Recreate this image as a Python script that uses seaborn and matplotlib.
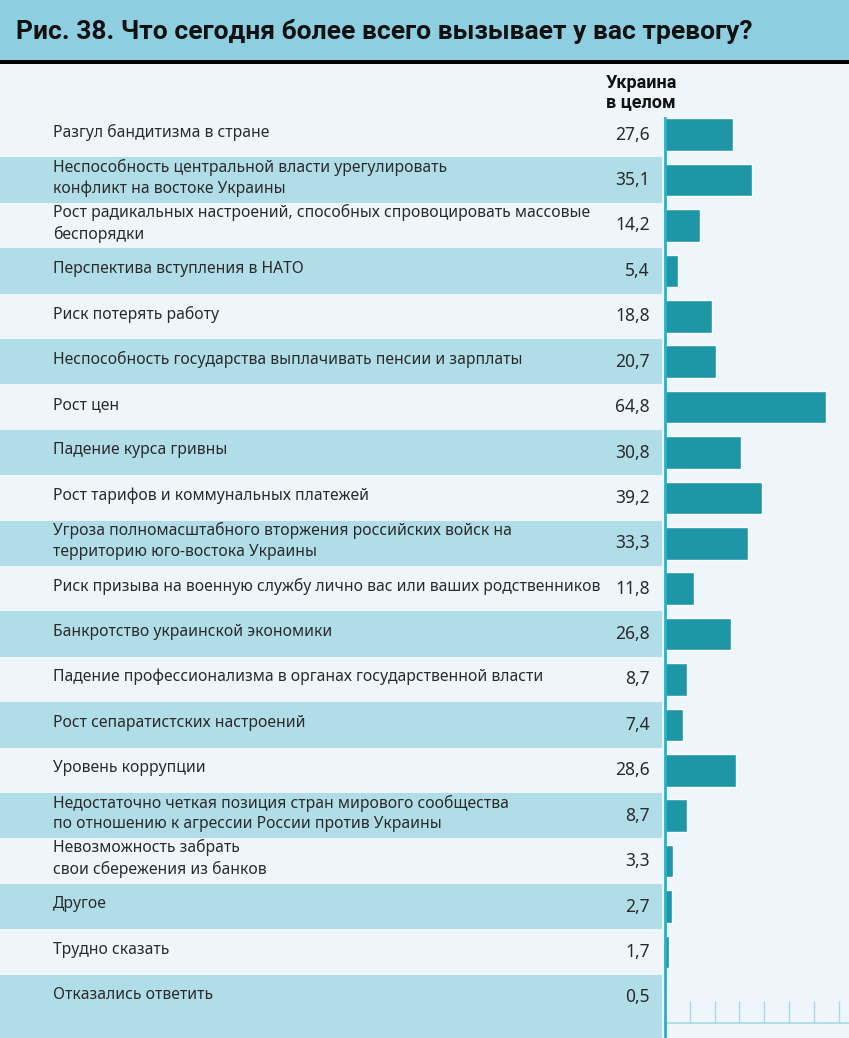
import matplotlib.pyplot as plt
import matplotlib.transforms as mtransforms
from matplotlib.patches import Rectangle
import pandas as pd
import seaborn as sns

# data
title = "Рис. 38. Что сегодня более всего вызывает у вас тревогу?"
column_header = "Украина\nв целом"
items = [
    "Разгул бандитизма в стране",
    "Неспособность центральной власти урегулировать\nконфликт на востоке Украины",
    "Рост радикальных настроений, способных спровоцировать массовые\nбеспорядки",
    "Перспектива вступления в НАТО",
    "Риск потерять работу",
    "Неспособность государства выплачивать пенсии и зарплаты",
    "Рост цен",
    "Падение курса гривны",
    "Рост тарифов и коммунальных платежей",
    "Угроза полномасштабного вторжения российских войск на\nтерриторию юго-востока Украины",
    "Риск призыва на военную службу лично вас или ваших родственников",
    "Банкротство украинской экономики",
    "Падение профессионализма в органах государственной власти",
    "Рост сепаратистских настроений",
    "Уровень коррупции",
    "Недостаточно четкая позиция стран мирового сообщества\nпо отношению к агрессии России против Украины",
    "Невозможность забрать\nсвои сбережения из банков",
    "Другое",
    "Трудно сказать",
    "Отказались ответить",
]
values = [27.6, 35.1, 14.2, 5.4, 18.8, 20.7, 64.8, 30.8, 39.2, 33.3,
          11.8, 26.8, 8.7, 7.4, 28.6, 8.7, 3.3, 2.7, 1.7, 0.5]
ticks = [10, 20, 30, 40, 50, 60, 70]

# colours
band_color = '#8dcfe0'
panel_color = '#eef6fb'
stripe_color = '#b1dde9'
bar_color = '#1e96a6'
spine_color = '#22b3cb'
scale_color = '#a9d9e5'
text_color = '#2a2a2a'

sns.set_theme(style='white')
plt.rcParams['font.family'] = ['Noto Sans', 'DejaVu Sans']

# layout in pixels
W, H = 849, 1038
x0 = 665          # value 0
px_per_unit = 2.48
top = 112
row_h = 45.4
n = len(items)
ybottom = n - 0.5 + (H - top - n * row_h) / row_h

fig = plt.figure(figsize=(W / 100, H / 100), dpi=100, facecolor=panel_color)
ax = fig.add_axes([0, 0, 1, (H - top) / H])
ax.set_facecolor('none')

df = pd.DataFrame({'item': items, 'value': values})
sns.barplot(data=df, x='value', y='item', orient='h', color=bar_color,
            saturation=1, width=0.72, ax=ax, zorder=3)

ax.set_xlim(-x0 / px_per_unit, (W - x0) / px_per_unit)
ax.set_ylim(ybottom, -0.5)
ax.set_xlabel('')
ax.set_ylabel('')
ax.set_yticks([])

# stripes on odd rows, left of the axis; the last one runs to the bottom
for i in range(1, n, 2):
    y1 = ybottom if i == n - 1 else i + 0.5
    ax.axhspan(i - 0.5, y1, xmin=0, xmax=662 / W,
               color=stripe_color, lw=0, zorder=0)

# row labels and values
trans = mtransforms.blended_transform_factory(ax.transAxes, ax.transData)
for i, (label, v) in enumerate(zip(items, values)):
    ax.text(53 / W, i - 0.05, label, transform=trans, va='center', ha='left',
            fontsize=11.3, color=text_color, linespacing=1.4)
    ax.text(650 / W, i, f"{v:.1f}".replace('.', ','), transform=trans,
            va='center', ha='right', fontsize=12.5, color=text_color)

# spines and scale
for side in ['top', 'right']:
    ax.spines[side].set_visible(False)
ax.spines['left'].set_position(('data', 0))
ax.spines['left'].set_color(spine_color)
ax.spines['left'].set_linewidth(2)
ax.spines['left'].set_bounds(ybottom, -0.36)
ax.spines['left'].set_zorder(4)
ax.spines['bottom'].set_position(('axes', 15 / (H - top)))
ax.spines['bottom'].set_bounds(0, (W - x0) / px_per_unit)
ax.spines['bottom'].set_color(scale_color)
ax.spines['bottom'].set_linewidth(1.2)
ax.set_xticks(ticks)
ax.tick_params(axis='x', direction='in', length=16, width=1,
               color=scale_color, labelbottom=False, bottom=True)

# header band
fig.add_artist(Rectangle((0, (H - 60) / H), 1, 60 / H, transform=fig.transFigure,
                         facecolor=band_color, edgecolor='none', zorder=0))
fig.add_artist(Rectangle((0, (H - 64) / H), 1, 4 / H, transform=fig.transFigure,
                         facecolor='black', edgecolor='none', zorder=1))
fig.text(16 / W, 1 - 31 / H, title, ha='left', va='center', fontsize=19,
         fontweight='bold', color='#111111',
         family=['Liberation Sans Narrow', 'Roboto', 'DejaVu Sans'])
fig.text(606 / W, 1 - 74 / H, column_header, ha='left', va='top', fontsize=13,
         fontweight='bold', color='#111111', linespacing=1.05,
         family=['Liberation Sans Narrow', 'Roboto', 'DejaVu Sans'])

fig.savefig('out.png', dpi=100, facecolor=panel_color)
